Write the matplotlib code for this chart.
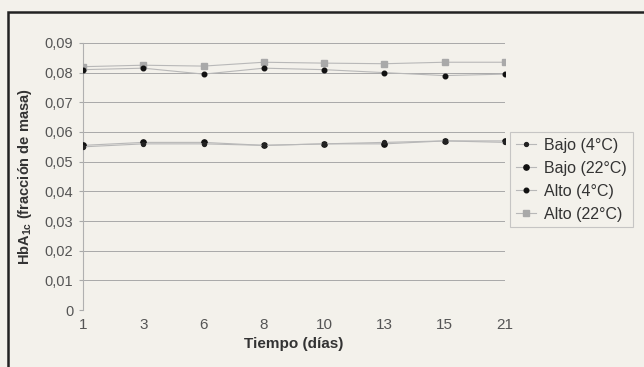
import numpy as np
import matplotlib.pyplot as plt
from matplotlib.patches import Rectangle

dias = ['1', '3', '6', '8', '10', '13', '15', '21']

bajo_4 = [0.0550, 0.0560, 0.0560, 0.0555, 0.0560, 0.0565, 0.0570, 0.0565]
bajo_22 = [0.0555, 0.0565, 0.0565, 0.0555, 0.0560, 0.0560, 0.0570, 0.0570]
alto_4 = [0.0810, 0.0815, 0.0795, 0.0815, 0.0810, 0.0800, 0.0790, 0.0795]
alto_22 = [0.0820, 0.0825, 0.0822, 0.0835, 0.0832, 0.0830, 0.0835, 0.0835]

yticks = [0.0, 0.01, 0.02, 0.03, 0.04, 0.05, 0.06, 0.07, 0.08, 0.09]
ytick_labels = ['0', '0,01', '0,02', '0,03', '0,04', '0,05', '0,06', '0,07', '0,08', '0,09']

bg = '#f3f1eb'
txt = '#555555'

plt.rcParams['font.family'] = ['Liberation Sans', 'DejaVu Sans']
plt.rcParams['mathtext.fontset'] = 'custom'
plt.rcParams['mathtext.bf'] = 'Liberation Sans:bold'
plt.rcParams['mathtext.rm'] = 'Liberation Sans'

def main():
    fig = plt.figure(figsize=(6.44, 3.67), dpi=100, facecolor=bg)
    ax = fig.add_axes([0.129, 0.155, 0.655, 0.728], facecolor=bg)

    # outer frame of the original scan
    fig.patches.append(Rectangle((0.012, -0.05), 1.05, 1.017, transform=fig.transFigure,
                                 fill=False, edgecolor='#222222', linewidth=1.8))

    x = np.arange(len(dias))
    line_kw = dict(color='#b8b8b8', linewidth=0.8)
    ax.plot(x, alto_22, marker='s', markersize=4.5, markerfacecolor='#a9a9a9',
            markeredgecolor='#a9a9a9', label='Alto (22°C)', zorder=3, **line_kw)
    ax.plot(x, alto_4, marker='o', markersize=3.3, markerfacecolor='#111111',
            markeredgecolor='#111111', label='Alto (4°C)', zorder=4, **line_kw)
    ax.plot(x, bajo_22, marker='o', markersize=3.8, markerfacecolor='#111111',
            markeredgecolor='#111111', label='Bajo (22°C)', zorder=4, **line_kw)
    ax.plot(x, bajo_4, marker='o', markersize=2.8, markerfacecolor='#222222',
            markeredgecolor='#222222', label='Bajo (4°C)', zorder=4, **line_kw)

    ax.set_xlim(0, len(dias) - 1)
    ax.set_ylim(0, 0.09)
    ax.set_xticks(x)
    ax.set_xticklabels(dias, fontsize=11, color=txt)
    ax.set_yticks(yticks)
    ax.set_yticklabels(ytick_labels, fontsize=10.5, color=txt)
    ax.tick_params(axis='both', length=3, color='#aaaaaa', pad=4)
    ax.tick_params(axis='x', length=0, pad=6)

    ax.grid(axis='y', color='#a8a8a8', linewidth=0.7)
    ax.set_axisbelow(True)
    for side in ['top', 'right', 'bottom']:
        ax.spines[side].set_visible(False)
    ax.spines['left'].set_color('#b0b0b0')

    ax.set_xlabel('Tiempo (días)', fontsize=11, fontweight='bold', color='#333333', labelpad=3)
    ax.set_ylabel('HbA$_{\\mathbf{1c}}$ (fracción de masa)', fontsize=10.5, fontweight='bold',
                  color='#333333', labelpad=8)

    h, l = ax.get_legend_handles_labels()
    leg = fig.legend(h[::-1], l[::-1], loc='upper left', bbox_to_anchor=(0.792, 0.64),
                     fontsize=11.5, frameon=True, fancybox=False, handlelength=1.3,
                     handletextpad=0.5, borderpad=0.35, labelspacing=0.5, borderaxespad=0,
                     labelcolor='#333333')
    leg.get_frame().set_edgecolor('#bbbbbb')
    leg.get_frame().set_facecolor(bg)
    leg.get_frame().set_linewidth(0.8)

    fig.savefig('out.png', dpi=100, facecolor=bg)

if __name__ == '__main__':
    main()
